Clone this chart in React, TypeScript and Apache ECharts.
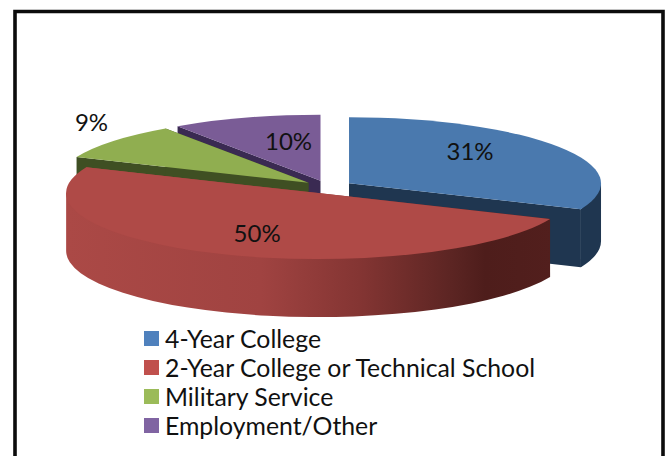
import React, { useEffect, useRef } from "react";
import * as echarts from "echarts";

const categories = ["4-Year College", "2-Year College or Technical School", "Military Service", "Employment/Other"];
const shares = [31.4, 50, 9, 9.6];

const legendColors = ["#4f81bd", "#c0504d", "#9bbb59", "#8064a2"];
const topColors = ["#4a79ae", "#af4a47", "#90ae50", "#7a5c96"];
const sideColors = ["#1f3650", "", "#3f4f23", "#3a2a52"];
const drawOrder = [3, 0, 2, 1];
const labelOffsets = [[121, -33], [-61, 39], [-217, -61], [-32, -40]];

const CX = 328, CY = 187, RX = 252, RY = 66, DEPTH = 58, EXPLODE = 0.1;
const FONT = "Lato, Carlito, sans-serif";
const toRad = (p: number) => (p / 100) * Math.PI * 2;
const f = (n: number) => n.toFixed(2);

function renderSlice(index: number) {
  const total = shares.reduce((a, b) => a + b, 0);
  const before = shares.slice(0, index).reduce((a, b) => a + b, 0);
  const a0 = toRad((before / total) * 100);
  const a1 = toRad(((before + shares[index]) / total) * 100);
  const mid = (a0 + a1) / 2;
  const ax = CX + EXPLODE * RX * Math.sin(mid);
  const ay = CY - EXPLODE * RY * Math.cos(mid);
  const pt = (a: number, d = 0) => [ax + RX * Math.sin(a), ay - RY * Math.cos(a) + d];
  const [x0, y0] = pt(a0);
  const [x1, y1] = pt(a1);
  const large = a1 - a0 > Math.PI ? 1 : 0;

  const side =
    index === 1
      ? new echarts.graphic.LinearGradient(
          67, 0, 553, 0,
          [
            { offset: 0, color: "#ab4946" },
            { offset: 0.4, color: "#a04341" },
            { offset: 0.6, color: "#843533" },
            { offset: 0.8, color: "#5a2422" },
            { offset: 0.86, color: "#4e1d1b" },
            { offset: 1, color: "#521f1d" },
          ],
          true
        )
      : sideColors[index];

  const children: any[] = [];
  const face = (a: number) => {
    const [x, y] = pt(a);
    return {
      type: "polygon",
      shape: { points: [[ax, ay], [x, y], [x, y + DEPTH], [ax, ay + DEPTH]] },
      style: { fill: side },
    };
  };
  children.push(face(a0), face(a1));

  const w0 = Math.max(a0, Math.PI / 2);
  const w1 = Math.min(a1, (Math.PI * 3) / 2);
  if (w1 > w0) {
    const [sx, sy] = pt(w0);
    const [ex, ey] = pt(w1);
    const big = w1 - w0 > Math.PI ? 1 : 0;
    // The wall is filled up to the chord, so the top face hides the join without a seam.
    children.push({
      type: "path",
      shape: {
        pathData: `M${f(sx)} ${f(sy)}L${f(sx)} ${f(sy + DEPTH)}A${RX} ${RY} 0 ${big} 1 ${f(ex)} ${f(ey + DEPTH)}L${f(ex)} ${f(ey)}Z`,
      },
      style: { fill: side },
    });
  }

  children.push({
    type: "path",
    shape: {
      pathData: `M${f(ax)} ${f(ay)}L${f(x0)} ${f(y0)}A${RX} ${RY} 0 ${large} 1 ${f(x1)} ${f(y1)}Z`,
    },
    style: { fill: topColors[index] },
  });

  children.push({
    type: "text",
    x: ax + labelOffsets[index][0],
    y: ay + labelOffsets[index][1],
    z2: 10,
    style: {
      text: `${Math.round(shares[index])}%`,
      fontSize: 24,
      fontFamily: FONT,
      fill: "#111111",
      align: "center",
      verticalAlign: "middle",
    },
  });

  return { type: "group", children };
}

export default function App() {
  const ref = useRef<HTMLDivElement>(null);
  useEffect(() => {
    document.body.style.margin = "0";
    document.body.style.background = "#ffffff";
    const chart = echarts.init(ref.current!, undefined, { renderer: "svg" });
    chart.setOption({
      animation: false,
      backgroundColor: "#ffffff",
      graphic: [
        {
          type: "polyline",
          shape: { points: [[15, 456], [15, 11.5], [663, 11.5], [663, 456]] },
          style: { stroke: "#0c0c0c", lineWidth: 3.6, fill: "none" },
          silent: true,
        },
      ],
      legend: {
        orient: "vertical",
        left: 144,
        top: 326,
        height: 125,
        padding: 0,
        itemWidth: 15,
        itemHeight: 15,
        itemGap: 4,
        icon: "rect",
        selectedMode: false,
        data: categories,
        textStyle: { fontFamily: FONT, fontSize: 24.8, color: "#111111", padding: [0, 0, 0, 1] },
      },
      series: drawOrder.map((i) => ({
        type: "custom",
        name: categories[i],
        coordinateSystem: "none",
        silent: true,
        itemStyle: { color: legendColors[i] },
        data: [shares[i]],
        renderItem: () => renderSlice(i),
      })),
    });
    return () => chart.dispose();
  }, []);
  return <div ref={ref} style={{ width: 668, height: 456 }} />;
}
